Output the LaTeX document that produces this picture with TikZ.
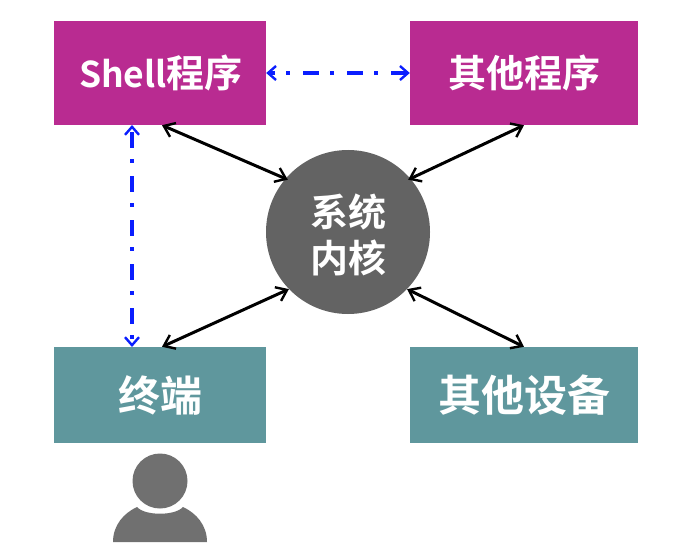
\documentclass[tikz,border=0pt]{standalone}
\usepackage{fontspec}
\setmainfont{Noto Sans CJK SC}[BoldFont={* Bold}]
\usetikzlibrary{arrows.meta,calc}
\definecolor{boxpurple}{HTML}{B92B91}
\definecolor{boxteal}{HTML}{5F979D}
\definecolor{coregray}{HTML}{636363}
\definecolor{persongray}{HTML}{707070}
\definecolor{linkblue}{HTML}{0A1EFF}
\tikzset{
  boxbase/.style={rectangle,inner sep=0pt,text=white,font=\bfseries\fontsize{38}{38}\selectfont},
  purplebox/.style={boxbase,fill=boxpurple},
  tealbox/.style={boxbase,fill=boxteal},
  corenode/.style={circle,fill=coregray,minimum size=164pt,inner sep=0pt},
  coretextstyle/.style={text=white,align=center,inner sep=0pt,font=\bfseries\fontsize{38}{46}\selectfont},
  blacklink/.style={draw=black,line width=3pt,{Straight Barb[length=10pt,width=15pt,line width=2.4pt]}-{Straight Barb[length=10pt,width=15pt,line width=2.4pt]}},
  bluelink/.style={draw=linkblue,line width=3.6pt,dash pattern=on 16pt off 11pt on 4pt off 13pt,
     {Straight Barb[length=8pt,width=14pt,line width=2.4pt]}-{Straight Barb[length=8pt,width=14pt,line width=2.4pt]}},
  personshape/.style={fill=persongray,draw=none}
}
\begin{document}
\begin{tikzpicture}[x=1pt,y=-1pt]
\useasboundingbox[fill=white] (0,0) rectangle (676,556);
\node[purplebox,minimum width=212pt,minimum height=104pt] (shell) at (160,73) {\hspace{2pt}{\fontsize{35.5}{38}\selectfont Shell}程序};
\node[purplebox,minimum width=228pt,minimum height=104pt] (other) at (524,73) {其他程序};
\node[tealbox,minimum width=212pt,minimum height=96pt] (term) at (160,395) {\fontsize{42}{42}\selectfont 终端};
\node[tealbox,minimum width=228pt,minimum height=96pt] (dev) at (524,395) {\fontsize{43}{43}\selectfont 其他设备};
\node[corenode] (core) at (348,232) {};
\node[coretextstyle] (coretext) at (348,234.5) {系统\\内核};
\coordinate (va) at (132,125);
\coordinate (vb) at (132,347);
\draw[blacklink] (shell.south) ++(2,0) -- ($(core.center)!0.97!(core.139)$);
\draw[blacklink] (other.south) -- ($(core.center)!0.97!(core.41)$);
\draw[blacklink] (term.north) ++(2,0) -- (core.224);
\draw[blacklink] (dev.north) -- (core.-44);
\draw[bluelink,dash phase=10pt] (shell.east) -- (other.west);
\draw[bluelink,dash phase=40pt] (va) -- (vb);
% person
\fill[personshape] (160,481) circle (27.5);
\fill[personshape] (113,542) .. controls (113,525) and (124,513) .. (137,507)
   .. controls (145,516) and (175,516) .. (183,507)
   .. controls (196,513) and (207,525) .. (207,542) -- cycle;
\end{tikzpicture}
\end{document}
